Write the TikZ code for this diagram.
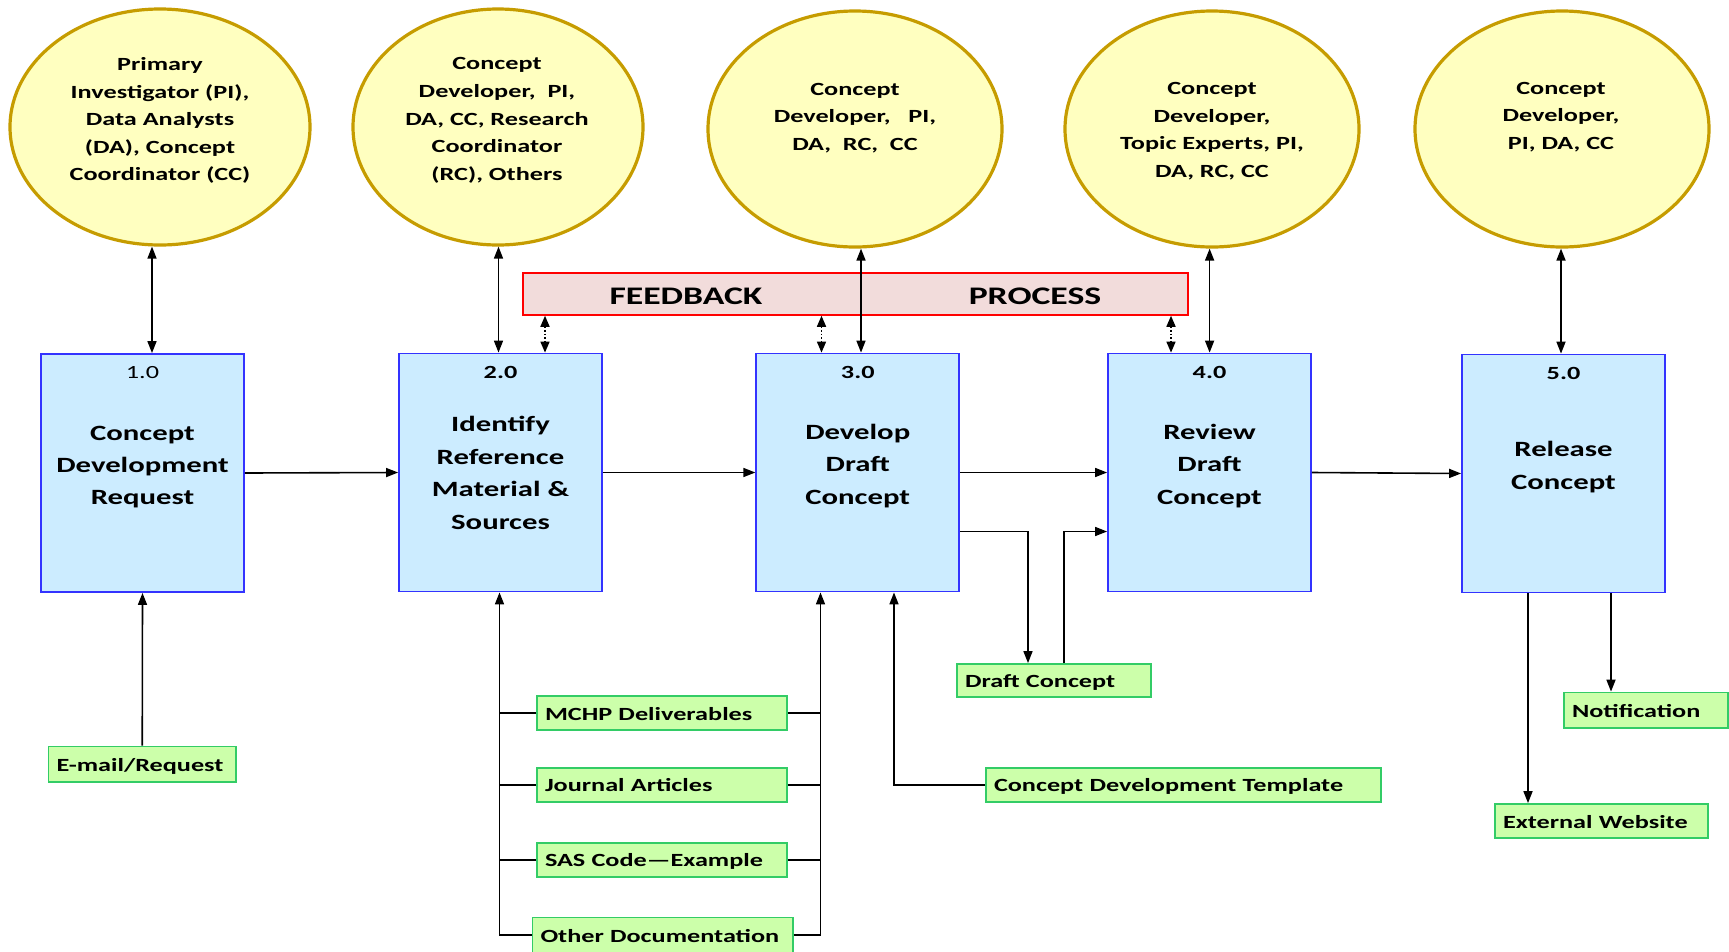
\documentclass[tikz,border=0pt]{standalone}
\usepackage{fontspec}
\setmainfont{Carlito}[FakeStretch=1.41]
\usetikzlibrary{shapes.geometric,arrows.meta,calc}
\definecolor{ellfill}{RGB}{255,255,192}
\definecolor{elldraw}{RGB}{198,156,0}
\definecolor{boxfill}{RGB}{204,236,255}
\definecolor{boxdraw}{RGB}{51,51,255}
\definecolor{gfill}{RGB}{204,255,170}
\definecolor{gdraw}{RGB}{51,204,102}
\definecolor{fbfill}{RGB}{242,220,219}
\definecolor{fbdraw}{RGB}{255,0,0}
\begin{document}
\begin{tikzpicture}[x=1pt,y=-1pt,
 ell/.style={ellipse,draw=elldraw,fill=ellfill,line width=3.2pt,inner sep=0pt},
 pbox/.style={rectangle,draw=boxdraw,fill=boxfill,line width=1.8pt,inner sep=0pt,minimum width=203pt,minimum height=238pt},
 gbox/.style={rectangle,draw=gdraw,fill=gfill,line width=1.8pt,inner xsep=8pt,inner ysep=0pt,minimum height=34pt,align=left,text height=16pt,text depth=2pt,font=\fontsize{18.6}{22}\selectfont\bfseries},
 etext/.style={align=center,font=\fontsize{18.6}{27.6}\selectfont\bfseries,inner sep=0pt},
 ttext/.style={align=center,font=\fontsize{21.8}{32.4}\selectfont\bfseries,inner sep=0pt},
 ntext/.style={font=\fontsize{18.6}{22}\selectfont,inner sep=0pt},
 nbtext/.style={font=\fontsize{18.6}{22}\selectfont\bfseries,inner sep=0pt},
 fbtext/.style={font=\fontsize{25.3}{28}\selectfont\bfseries,inner sep=0pt},
 conn/.style={line width=1.6pt,-{Triangle[length=12pt,width=9pt]}},
 dconn/.style={line width=1.6pt,{Triangle[length=12pt,width=9pt]}-{Triangle[length=12pt,width=9pt]}},
 dotconn/.style={line width=1.6pt,dotted,{Triangle[length=11pt,width=9pt]}-{Triangle[length=11pt,width=9pt]}},
 plain/.style={line width=1.6pt},
]
\useasboundingbox (0,0) rectangle (1729,951);
\fill[white] (0,0) rectangle (1729,951);
\clip (0,0) rectangle (1729,951);

% ellipses
\node[ell,minimum width=300pt,minimum height=236pt] (e1) at (160,127) {};
\node[ell,minimum width=290pt,minimum height=236pt] (e2) at (498,127) {};
\node[ell,minimum width=294pt,minimum height=236pt] (e3) at (855,129) {};
\node[ell,minimum width=294pt,minimum height=236pt] (e4) at (1212,129) {};
\node[ell,minimum width=294pt,minimum height=236pt] (e5) at (1562,129) {};
\node[etext] (et1) at (160,120.5) {Primary\\Investigator (PI),\\Data Analysts\\(DA), Concept\\Coordinator (CC)};
\node[etext] (et2) at (497,120.5) {Concept\\Developer,~~PI,\\DA, CC, Research\\Coordinator\\(RC), Others};
\node[etext] (et3) at (855,118) {Concept\\Developer,~~~PI,\\DA,~~RC,~~CC};
\node[etext] (et4) at (1212,131) {Concept\\Developer,\\Topic Experts, PI,\\DA, RC, CC};
\node[etext] (et5) at (1561,117) {Concept\\Developer,\\PI, DA, CC};

% feedback bar
\node[rectangle,draw=fbdraw,fill=fbfill,line width=1.5pt,minimum width=665pt,minimum height=42pt,inner sep=0pt] (fb) at (855.5,294) {};
\node[fbtext] (fbl) at (686,296.5) {FEEDBACK};
\node[fbtext] (fbr) at (1035,296.5) {PROCESS};

% process boxes
\node[pbox] (b1) at (142.5,473) {};
\node[pbox] (b2) at (500.5,472.5) {};
\node[pbox] (b3) at (857.75,472.5) {};
\node[pbox] (b4) at (1209.5,472.5) {};
\node[pbox] (b5) at (1563.5,473.5) {};
\node[ntext] (n1) at (142.5,372.8) {1.0};
\node[nbtext] (n2) at (500.5,372.8) {2.0};
\node[nbtext] (n3) at (857.75,372.8) {3.0};
\node[nbtext] (n4) at (1209.5,372.8) {4.0};
\node[nbtext] (n5) at (1563.5,373.9) {5.0};
\node[ttext] (t1) at (142.5,467) {Concept\\Development\\Request};
\node[ttext] (t2) at (500.5,473) {Identify\\Reference\\Material \&\\Sources};
\node[ttext] (t3) at (857.75,466) {Develop\\Draft\\Concept};
\node[ttext] (t4) at (1209.5,466) {Review\\Draft\\Concept};
\node[ttext] (t5) at (1563.5,467) {Release\\Concept};

% green boxes
\node[gbox,text width=171.5pt,minimum height=35.5pt] (email) at (142.25,764.25) {E-mail/Request};
\node[gbox,text width=234pt] (mchp) at (662,713) {MCHP Deliverables};
\node[gbox,text width=234pt] (jour) at (662,784.75) {Journal Articles};
\node[gbox,text width=234pt] (sas) at (662,859.75) {SAS Code—Example};
\node[gbox,text width=244.5pt,minimum height=35pt] (other) at (662.75,935) {Other Documentation};
\node[gbox,text width=178pt,minimum height=33pt] (draft) at (1054,680.5) {Draft Concept};
\node[gbox,text width=379pt] (tmpl) at (1183.5,784.75) {Concept Development Template};
\node[gbox,text width=148pt,minimum height=35.5pt] (notif) at (1646,710.25) {Notification};
\node[gbox,text width=197pt] (ext) at (1601.5,821) {External Website};

% x positions of connectors
\coordinate (xa) at (152,0);
\coordinate (xb) at (498.5,0);
\coordinate (xc) at (861,0);
\coordinate (xd) at (1209.6,0);
\coordinate (xe) at (1561,0);
\coordinate (fa) at (545,0);
\coordinate (fc) at (821.5,0);
\coordinate (fd) at (1171,0);
\coordinate (lv) at (499.5,0);
\coordinate (rv) at (820.5,0);
\coordinate (tv) at (894,0);
\coordinate (dv1) at (1028,531.5);
\coordinate (dv2) at (1064,531.5);
\coordinate (xv) at (1528,0);
\coordinate (nv) at (1611,0);

% ellipse <-> box
\draw[dconn] (e1.south -| xa) -- (b1.north -| xa);
\draw[dconn] (e2.south -| xb) -- (b2.north -| xb);
\draw[dconn] (e3.south -| xc) -- (b3.north -| xc);
\draw[dconn] (e4.south -| xd) -- (b4.north -| xd);
\draw[dconn] (e5.south -| xe) -- (b5.north -| xe);

% feedback dotted
\draw[dotconn] (fb.south -| fa) -- (b2.north -| fa);
\draw[dotconn] (fb.south -| fc) -- (b3.north -| fc);
\draw[dotconn] (fb.south -| fd) -- (b4.north -| fd);

% main flow
\draw[conn] (b1.east) -- (b2.west);
\draw[conn] (b2.east) -- (b3.west);
\draw[conn] (b3.east) -- (b4.west);
\draw[conn] (b4.east) -- (b5.west);

% inputs
\draw[conn] (email.north) -- (b1.south);
\draw[plain] (mchp.west) -- (mchp.west -| lv);
\draw[plain] (jour.west) -- (jour.west -| lv);
\draw[plain] (sas.west) -- (sas.west -| lv);
\draw[conn] (other.west) -- (other.west -| lv) -- (b2.south -| lv);
\draw[plain] (mchp.east) -- (mchp.east -| rv);
\draw[plain] (jour.east) -- (jour.east -| rv);
\draw[plain] (sas.east) -- (sas.east -| rv);
\draw[conn] (other.east) -- (other.east -| rv) -- (b3.south -| rv);
\draw[conn] (tmpl.west) -- (tmpl.west -| tv) -- (b3.south -| tv);

% draft loop
\draw[conn] (b3.east |- dv1) -- (dv1) -- (draft.north -| dv1);
\draw[conn] (draft.north -| dv2) -- (dv2) -- (b4.west |- dv2);

% outputs
\draw[conn] (b5.south -| xv) -- (ext.north -| xv);
\draw[conn] (b5.south -| nv) -- (notif.north -| nv);
\end{tikzpicture}
\end{document}
